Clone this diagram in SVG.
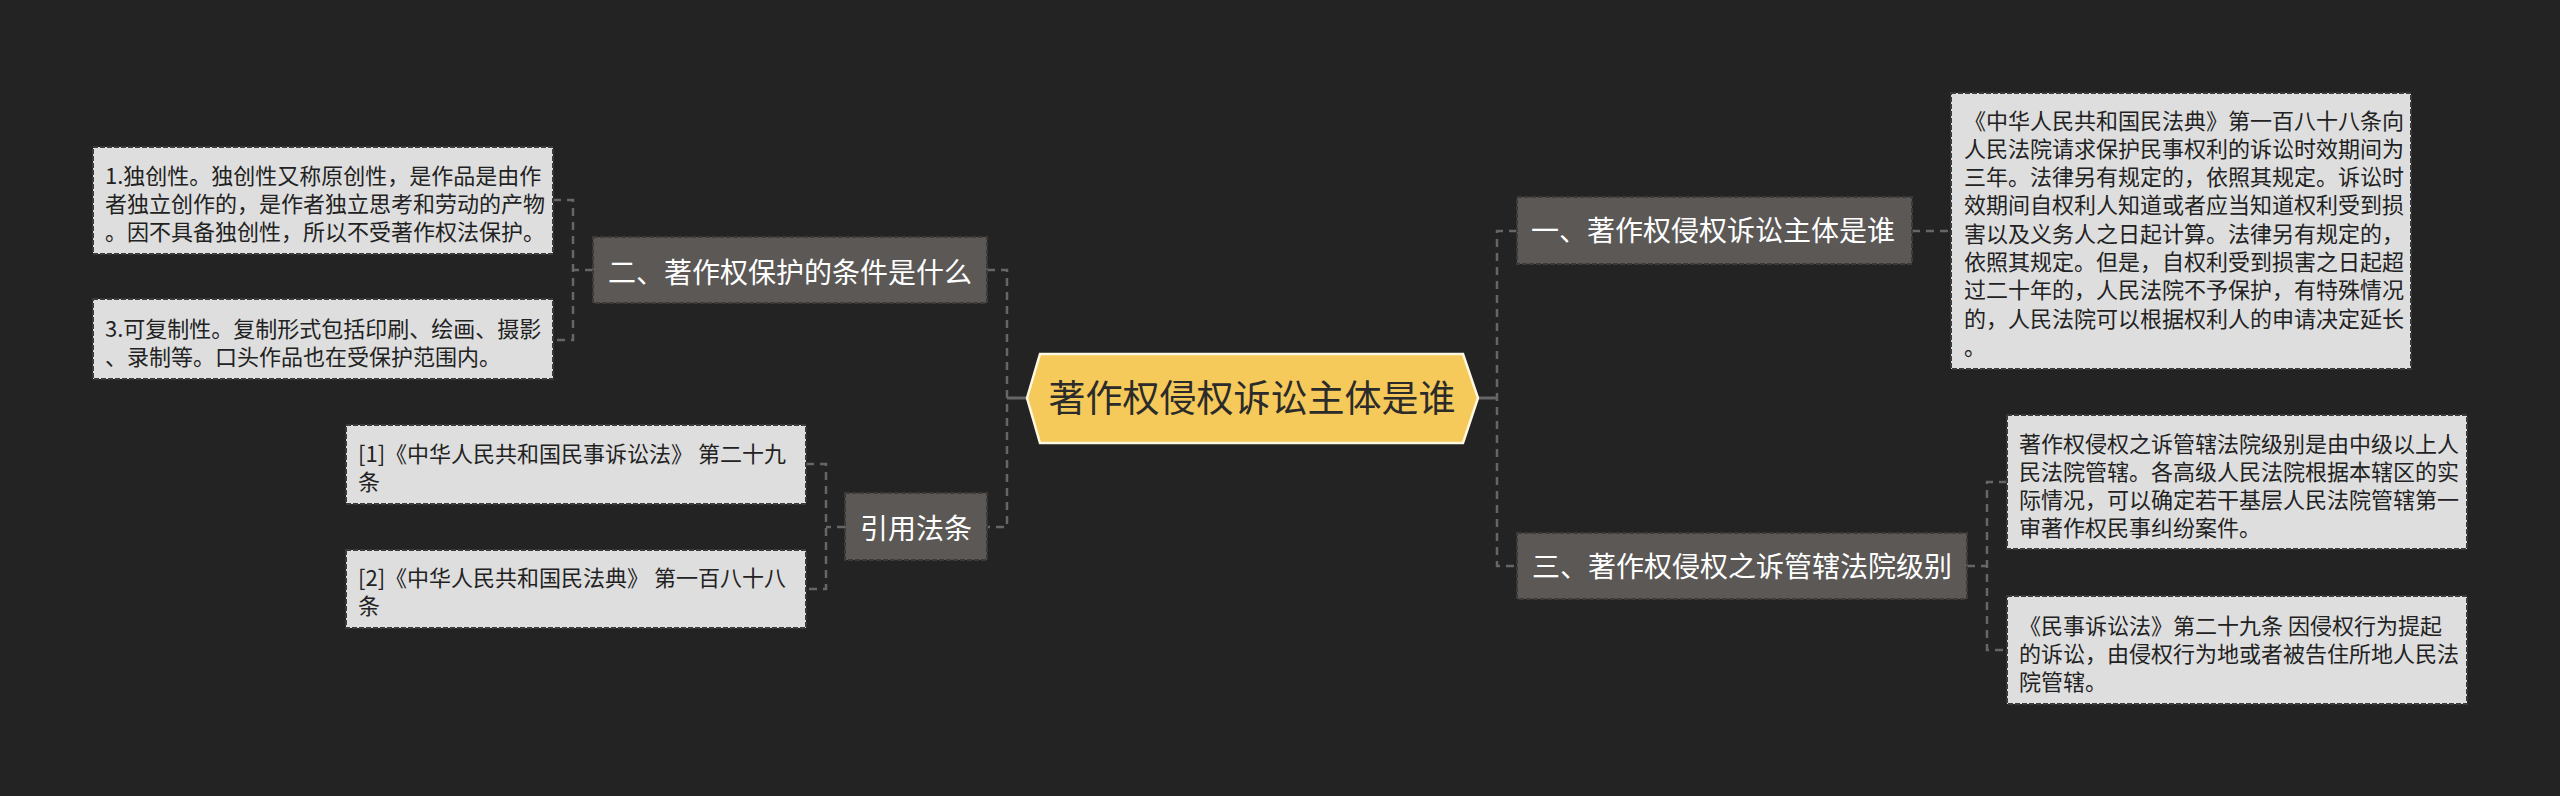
<svg xmlns="http://www.w3.org/2000/svg" width="2560" height="796" viewBox="0 0 2560 796">
<style>
.bg{fill:#232323}
.conn{fill:none;stroke:#666;stroke-width:2.5;stroke-dasharray:8 6}
.stub{fill:none;stroke:#666;stroke-width:3}
.branch{fill:#5b5856;stroke:#3c3a39;stroke-width:2;stroke-dasharray:5 2}
.leaf{fill:#dedede;stroke:#3a3a3a;stroke-width:2;stroke-dasharray:5 2}
.bt{font-family:"Noto Sans CJK SC","Noto Sans",sans-serif;font-size:28px;fill:#ffffff;text-anchor:middle}
.lt{font-family:"Noto Sans CJK SC","Noto Sans",sans-serif;font-size:22px;fill:#222}
.ct{font-family:"Noto Sans CJK SC","Noto Sans",sans-serif;font-size:37px;fill:#2b2b2b;text-anchor:middle}
</style>
<rect class="bg" x="0" y="0" width="2560" height="796"/>
<g id="connectors">
<path class="stub" d="M1007 398H1027"/>
<path class="stub" d="M1478 398H1497"/>
<path class="conn" d="M987 270H1007V527H987"/>
<path class="conn" d="M1517 231H1497V566H1517"/>
<path class="conn" d="M593 270H573"/>
<path class="conn" d="M553 200H573V340H553"/>
<path class="conn" d="M845 527H826"/>
<path class="conn" d="M806 464H826V589H806"/>
<path class="conn" d="M1912 231H1951"/>
<path class="conn" d="M1967 566H1987"/>
<path class="conn" d="M2007 482H1987V650H2007"/>
</g>
<g id="center">
<polygon points="1027,398 1040,354 1463,354 1478,398 1463,443 1040,443" fill="#f5c95a" stroke="#fff8e0" stroke-width="2.5"/>
<text class="ct" x="1252" y="412">著作权侵权诉讼主体是谁</text>
</g>
<g id="node-two">
<rect class="branch" x="593" y="237" width="394" height="66"/>
<text class="bt" x="790" y="283">二、著作权保护的条件是什么</text>
</g>
<g id="node-ref">
<rect class="branch" x="845" y="493" width="142" height="67"/>
<text class="bt" x="916" y="539">引用法条</text>
</g>
<g id="node-one">
<rect class="branch" x="1517" y="197" width="395" height="67"/>
<text class="bt" x="1713" y="241">一、著作权侵权诉讼主体是谁</text>
</g>
<g id="node-three">
<rect class="branch" x="1517" y="533" width="450" height="66"/>
<text class="bt" x="1742" y="577">三、著作权侵权之诉管辖法院级别</text>
</g>
<g id="leaf-l1">
<rect class="leaf" x="93" y="147" width="460" height="107"/>
<text class="lt" x="105" y="183.5">1.独创性。独创性又称原创性，是作品是由作</text>
<text class="lt" x="105" y="211.5">者独立创作的，是作者独立思考和劳动的产物</text>
<text class="lt" x="105" y="239.5">。因不具备独创性，所以不受著作权法保护。</text>
</g>
<g id="leaf-l2">
<rect class="leaf" x="93" y="299" width="460" height="80"/>
<text class="lt" x="105" y="336.5">3.可复制性。复制形式包括印刷、绘画、摄影</text>
<text class="lt" x="105" y="365">、录制等。口头作品也在受保护范围内。</text>
</g>
<g id="leaf-ref1">
<rect class="leaf" x="346" y="425" width="460" height="79"/>
<text class="lt" x="358" y="462">[1]《中华人民共和国民事诉讼法》 第二十九</text>
<text class="lt" x="358" y="489.5">条</text>
</g>
<g id="leaf-ref2">
<rect class="leaf" x="346" y="550" width="460" height="78"/>
<text class="lt" x="358" y="585.5">[2]《中华人民共和国民法典》 第一百八十八</text>
<text class="lt" x="358" y="614">条</text>
</g>
<g id="leaf-r1">
<rect class="leaf" x="1951" y="93" width="460" height="276"/>
<text class="lt" x="1964" y="128.5">《中华人民共和国民法典》第一百八十八条向</text>
<text class="lt" x="1964" y="156.8">人民法院请求保护民事权利的诉讼时效期间为</text>
<text class="lt" x="1964" y="185.1">三年。法律另有规定的，依照其规定。诉讼时</text>
<text class="lt" x="1964" y="213.4">效期间自权利人知道或者应当知道权利受到损</text>
<text class="lt" x="1964" y="241.7">害以及义务人之日起计算。法律另有规定的，</text>
<text class="lt" x="1964" y="270">依照其规定。但是，自权利受到损害之日起超</text>
<text class="lt" x="1964" y="298.3">过二十年的，人民法院不予保护，有特殊情况</text>
<text class="lt" x="1964" y="326.6">的，人民法院可以根据权利人的申请决定延长</text>
<text class="lt" x="1964" y="354.9">。</text>
</g>
<g id="leaf-r2">
<rect class="leaf" x="2007" y="415" width="460" height="134"/>
<text class="lt" x="2019" y="451.5">著作权侵权之诉管辖法院级别是由中级以上人</text>
<text class="lt" x="2019" y="479.5">民法院管辖。各高级人民法院根据本辖区的实</text>
<text class="lt" x="2019" y="507.5">际情况，可以确定若干基层人民法院管辖第一</text>
<text class="lt" x="2019" y="535.5">审著作权民事纠纷案件。</text>
</g>
<g id="leaf-r3">
<rect class="leaf" x="2007" y="596" width="460" height="108"/>
<text class="lt" x="2019" y="633.5">《民事诉讼法》第二十九条 因侵权行为提起</text>
<text class="lt" x="2019" y="661.5">的诉讼，由侵权行为地或者被告住所地人民法</text>
<text class="lt" x="2019" y="689.5">院管辖。</text>
</g>
</svg>
